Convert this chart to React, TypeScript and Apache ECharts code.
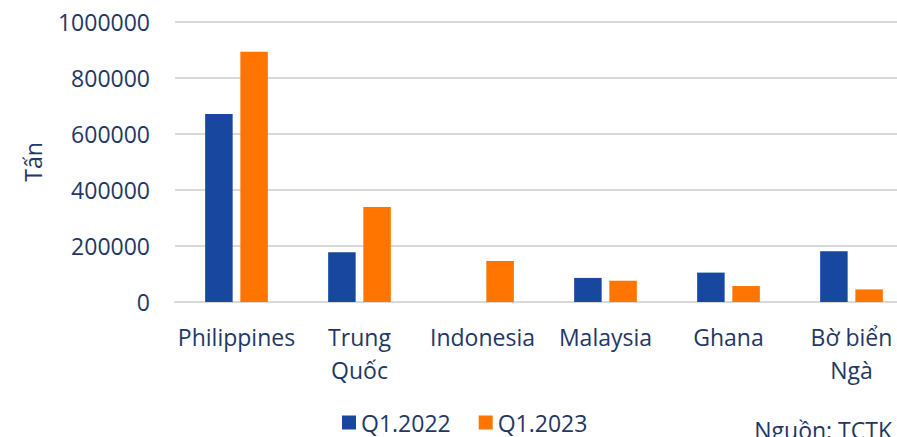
import React, { useEffect, useRef } from "react";
import * as echarts from "echarts";

const categories = ["Philippines", "Trung\nQuốc", "Indonesia", "Malaysia", "Ghana", "Bờ biển\nNgà"];
const q2022 = [671000, 178000, 0, 86000, 105000, 181000];
const q2023 = [894000, 339000, 146000, 76000, 57000, 45000];
const seriesNames = ["Q1.2022", "Q1.2023"];
const yAxisTitle = "Tấn";
const sourceText = "Nguồn: TCTK";

const TEXT = "#1f3864";
const FONT = "'Open Sans', 'Noto Sans', sans-serif";

export default function App() {
  const ref = useRef<HTMLDivElement>(null);
  useEffect(() => {
    document.body.style.margin = "0";
    const chart = echarts.init(ref.current!, null, { renderer: "svg" });
    chart.setOption({
      animation: false,
      textStyle: { fontFamily: FONT },
      grid: { left: 175, width: 738, top: 22, height: 280, containLabel: false },
      legend: {
        data: seriesNames,
        left: 342,
        top: 411,
        padding: 0,
        itemWidth: 14,
        itemHeight: 14,
        itemGap: 28,
        icon: "rect",
        textStyle: { color: TEXT, fontSize: 23, lineHeight: 22, fontFamily: FONT },
      },
      xAxis: {
        type: "category",
        data: categories,
        axisLine: { lineStyle: { color: "#d9d9d9", width: 2 } },
        axisTick: { show: false },
        axisLabel: {
          interval: 0,
          color: TEXT,
          fontSize: 23,
          lineHeight: 33,
          margin: 18,
          fontFamily: FONT,
        },
      },
      yAxis: {
        type: "value",
        min: 0,
        max: 1000000,
        interval: 200000,
        axisLine: { show: false },
        axisTick: { show: false },
        splitLine: { lineStyle: { color: "#d9d9d9", width: 2 } },
        axisLabel: {
          color: TEXT,
          fontSize: 23,
          margin: 25,
          fontFamily: FONT,
          formatter: (v: number) => String(v),
        },
      },
      series: [
        {
          name: seriesNames[0],
          type: "bar",
          data: q2022,
          barWidth: 27.5,
          barGap: "28%",
          itemStyle: { color: "#17479e" },
        },
        {
          name: seriesNames[1],
          type: "bar",
          data: q2023,
          barWidth: 27.5,
          barGap: "28%",
          itemStyle: { color: "#ff7500" },
        },
      ],
      graphic: [
        {
          type: "text",
          x: 33,
          y: 162,
          rotation: Math.PI / 2,
          style: {
            text: yAxisTitle,
            fill: TEXT,
            font: `23px ${FONT}`,
            textAlign: "center",
            textVerticalAlign: "middle",
          },
        },
        {
          type: "text",
          right: 28,
          top: 418,
          style: {
            text: sourceText,
            fill: TEXT,
            font: `23px ${FONT}`,
          },
        },
      ],
    });
    return () => chart.dispose();
  }, []);
  return (
    <div style={{ width: 897, height: 437, overflow: "hidden" }}>
      <div ref={ref} style={{ width: 920, height: 437 }} />
    </div>
  );
}
